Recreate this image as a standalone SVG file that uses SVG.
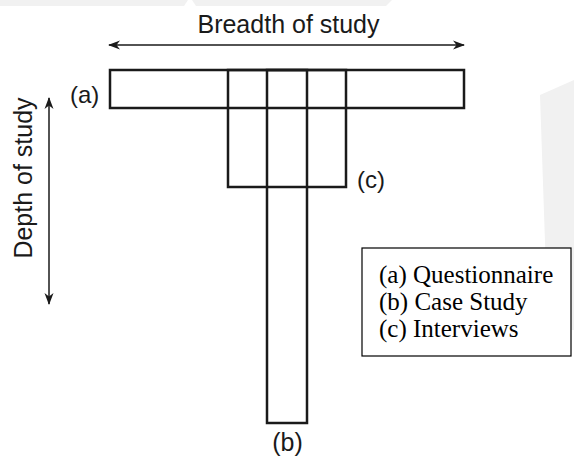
<svg xmlns="http://www.w3.org/2000/svg" width="574" height="457" viewBox="0 0 574 457">
<defs>
<marker id="ah" viewBox="0 0 12 10" refX="11" refY="5" markerWidth="12" markerHeight="10" markerUnits="userSpaceOnUse" orient="auto-start-reverse">
<path d="M0,0.5 L12,5 L0,9.5 L3.5,5 Z" fill="#1a1a1a"/>
</marker>
<style>
.box{fill:none;stroke:#1a1a1a;stroke-width:2.5}
.lbl{font-family:"Liberation Sans",Arial,sans-serif;font-size:25px;fill:#1a1a1a}
.leg{font-family:"Liberation Serif","Times New Roman",serif;font-size:25px;fill:#000}
.ax{stroke:#1a1a1a;stroke-width:1.5;fill:none}
.wm{fill:#f1f1f1}
</style>
</defs>
<rect width="574" height="457" fill="#fff"/>
<g id="watermark">
<polygon class="wm" points="0,0 188,0 184,6 0,6"/>
<polygon class="wm" points="192,0 392,0 386,6 196,6"/>
<polygon class="wm" points="540,95 574,80 574,330 548,330"/>
</g>
<g id="connectors">
<line class="ax" x1="109" y1="45" x2="464" y2="45" marker-start="url(#ah)" marker-end="url(#ah)"/>
<line class="ax" x1="49" y1="98" x2="49" y2="304" marker-start="url(#ah)" marker-end="url(#ah)"/>
</g>
<g id="breadth-label"><text class="lbl" x="288.5" y="33" text-anchor="middle">Breadth of study</text></g>
<g id="depth-label"><text class="lbl" transform="translate(32,178) rotate(-90)" text-anchor="middle">Depth of study</text></g>
<g id="node-a">
<rect class="box" x="110" y="70" width="354" height="38"/>
<text class="lbl" x="70" y="103" style="font-size:24px">(a)</text>
</g>
<g id="node-c">
<rect class="box" x="228" y="70" width="118" height="117"/>
<text class="lbl" x="357" y="188" style="font-size:24px">(c)</text>
</g>
<g id="node-b">
<rect class="box" x="267" y="70" width="40" height="353"/>
<text class="lbl" x="287.5" y="451" text-anchor="middle">(b)</text>
</g>
<g id="legend">
<rect x="362" y="248" width="209" height="108" fill="#fff" stroke="#000" stroke-width="1.2"/>
<text class="leg" x="379" y="283">(a) Questionnaire</text>
<text class="leg" x="379" y="310">(b) Case Study</text>
<text class="leg" x="379" y="337">(c) Interviews</text>
</g>
</svg>
